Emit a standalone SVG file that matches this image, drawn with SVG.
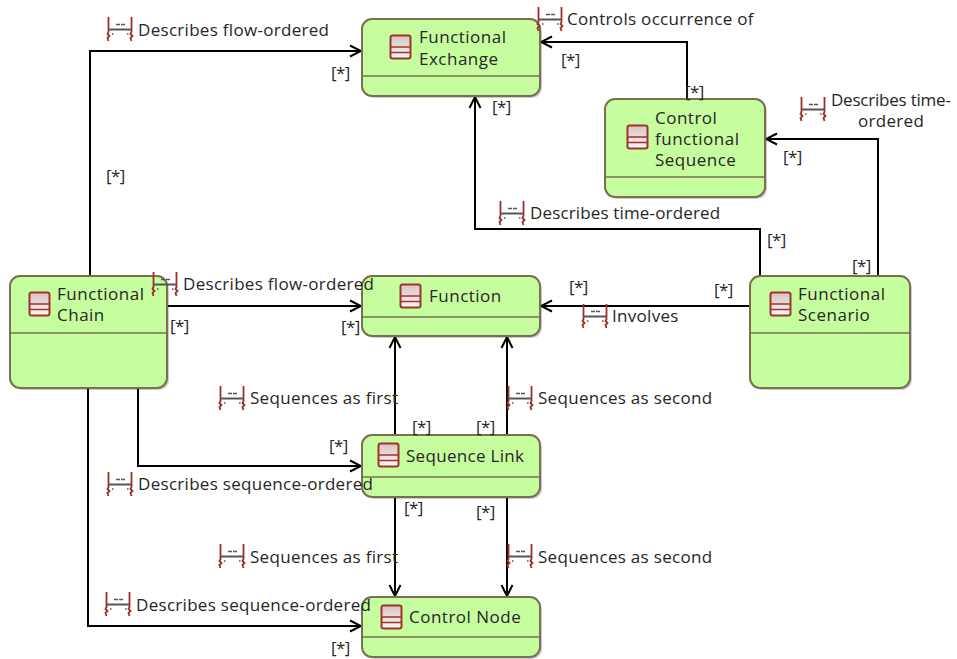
<svg xmlns="http://www.w3.org/2000/svg" width="957" height="659" viewBox="0 0 957 659">
<style>
text{font-family:"Open Sans","Noto Sans","Liberation Sans",sans-serif;font-size:17px;fill:#262626;letter-spacing:.3px}
.n{letter-spacing:.5px}
.t{letter-spacing:.15px}
.s{letter-spacing:-.6px}
.box{fill:#c6fd9f;stroke:#7a6f4e;stroke-width:2}
.shadow{fill:#000;opacity:.2}
.div{stroke:#7a6f4e;stroke-width:1.5;fill:none}
.edge{stroke:#000;stroke-width:2;fill:none}
</style>
<defs>
<marker id="arr" markerWidth="14" markerHeight="14" refX="12" refY="7" orient="auto" markerUnits="userSpaceOnUse"><path d="M1 1.500L12 7L1 12.500" fill="none" stroke="#000" stroke-width="2"/></marker>
<linearGradient id="ig" x1="0" y1="0" x2="0" y2="1"><stop offset="0" stop-color="#d9c3c3"/><stop offset="1" stop-color="#fbf7f7"/></linearGradient>
<g id="cls"><rect x="0.500" y="0.500" width="20" height="23" rx="2" fill="url(#ig)" stroke="#a0342c" stroke-width="2"/><path d="M1 12H20M1 17.500H20" stroke="#a0342c" stroke-width="1.600"/></g>
<g id="asc"><path d="M1.500 0V15L0.500 17L2.500 19L0.500 21L1.500 24M24.500 0V15L23.500 17L25.500 19L23.500 21L24.500 24" fill="none" stroke="#9e2f2a" stroke-width="1.800"/><path d="M2 12.500H24" stroke="#555" stroke-width="2"/><path d="M9 7.500H18" stroke="#555" stroke-width="1.500" stroke-dasharray="4 1"/><path d="M5 17h1.500M20 17h1.500" stroke="#555" stroke-width="1.500"/></g>
</defs>
<g id="connectors">
<path class="edge" marker-end="url(#arr)" d="M90 276V51H361"/>
<path class="edge" marker-end="url(#arr)" d="M687 99V42H541"/>
<path class="edge" marker-end="url(#arr)" d="M878 276V139H766"/>
<path class="edge" marker-end="url(#arr)" d="M760 276V229H475V97"/>
<path class="edge" marker-end="url(#arr)" d="M167 306H361"/>
<path class="edge" marker-end="url(#arr)" d="M750 306H541"/>
<path class="edge" marker-end="url(#arr)" d="M395 435V337"/>
<path class="edge" marker-end="url(#arr)" d="M507 435V337"/>
<path class="edge" marker-end="url(#arr)" d="M138 388V466H361"/>
<path class="edge" marker-end="url(#arr)" d="M395 497V596"/>
<path class="edge" marker-end="url(#arr)" d="M507 497V596"/>
<path class="edge" marker-end="url(#arr)" d="M88 388V626H361"/>
</g>
<g id="node-functional-exchange">
<rect class="shadow" x="364" y="21" width="178" height="77" rx="10"/>
<rect class="box" x="362" y="19" width="178" height="77" rx="10"/>
<path class="div" d="M362 76H540"/>
<use href="#cls" x="390" y="35"/>
<text class="n" x="419" y="43">Functional</text><text class="n" x="419" y="65">Exchange</text>
</g>
<g id="node-control-functional-sequence">
<rect class="shadow" x="607" y="101" width="160" height="98" rx="10"/>
<rect class="box" x="605" y="99" width="160" height="98" rx="10"/>
<path class="div" d="M605 177H765"/>
<use href="#cls" x="627" y="125"/>
<text class="n" x="655" y="124">Control</text><text class="n" x="655" y="145">functional</text><text class="n" x="655" y="166">Sequence</text>
</g>
<g id="node-functional-chain">
<rect class="shadow" x="12" y="278" width="157" height="112" rx="10"/>
<rect class="box" x="10" y="276" width="157" height="112" rx="10"/>
<path class="div" d="M10 333H167"/>
<use href="#cls" x="29" y="292"/>
<text class="n" x="57" y="300">Functional</text><text class="n" x="57" y="321">Chain</text>
</g>
<g id="node-function">
<rect class="shadow" x="364" y="278" width="178" height="60" rx="10"/>
<rect class="box" x="362" y="276" width="178" height="60" rx="10"/>
<path class="div" d="M362 317H540"/>
<use href="#cls" x="400" y="284"/>
<text class="n" x="429" y="302">Function</text>
</g>
<g id="node-functional-scenario">
<rect class="shadow" x="752" y="278" width="160" height="112" rx="10"/>
<rect class="box" x="750" y="276" width="160" height="112" rx="10"/>
<path class="div" d="M750 333H910"/>
<use href="#cls" x="770" y="292"/>
<text class="n" x="798" y="300">Functional</text><text class="n" x="798" y="321">Scenario</text>
</g>
<g id="node-sequence-link">
<rect class="shadow" x="364" y="437" width="178" height="62" rx="10"/>
<rect class="box" x="362" y="435" width="178" height="62" rx="10"/>
<path class="div" d="M362 477H540"/>
<use href="#cls" x="378" y="443"/>
<text x="406" y="462">Sequence Link</text>
</g>
<g id="node-control-node">
<rect class="shadow" x="364" y="599" width="178" height="60" rx="10"/>
<rect class="box" x="362" y="597" width="178" height="60" rx="10"/>
<path class="div" d="M362 637H540"/>
<use href="#cls" x="381" y="605"/>
<text class="n" x="409" y="623">Control Node</text>
</g>
<g id="labels">
<use href="#asc" x="107" y="17"/><text x="138" y="36">Describes flow-ordered</text>
<use href="#asc" x="537" y="7"/><text x="567" y="25">Controls occurrence of</text>
<use href="#asc" x="800" y="97"/><text class="t" x="831" y="106" textLength="120">Describes time-</text><text x="858" y="127">ordered</text>
<use href="#asc" x="499" y="201"/><text class="t" x="530" y="219">Describes time-ordered</text>
<use href="#asc" x="152" y="272"/><text x="183" y="290">Describes flow-ordered</text>
<use href="#asc" x="582" y="304"/><text x="612" y="322">Involves</text>
<use href="#asc" x="219" y="386"/><text x="250" y="404">Sequences as first</text>
<use href="#asc" x="507" y="386"/><text x="538" y="404">Sequences as second</text>
<use href="#asc" x="107" y="472"/><text x="138" y="490">Describes sequence-ordered</text>
<use href="#asc" x="219" y="544"/><text x="250" y="563">Sequences as first</text>
<use href="#asc" x="507" y="544"/><text x="538" y="563">Sequences as second</text>
<use href="#asc" x="105" y="592"/><text x="136" y="611">Describes sequence-ordered</text>
<text class="s" x="331" y="79">[*]</text>
<text class="s" x="561" y="66">[*]</text>
<text class="s" x="685" y="98">[*]</text>
<text class="s" x="492" y="113">[*]</text>
<text class="s" x="106" y="182">[*]</text>
<text class="s" x="783" y="163">[*]</text>
<text class="s" x="767" y="246">[*]</text>
<text class="s" x="852" y="272">[*]</text>
<text class="s" x="569" y="293">[*]</text>
<text class="s" x="714" y="296">[*]</text>
<text class="s" x="170" y="332">[*]</text>
<text class="s" x="341" y="333">[*]</text>
<text class="s" x="412" y="433">[*]</text>
<text class="s" x="476" y="433">[*]</text>
<text class="s" x="329" y="452">[*]</text>
<text class="s" x="404" y="514">[*]</text>
<text class="s" x="476" y="518">[*]</text>
<text class="s" x="331" y="654">[*]</text>
</g>
</svg>
